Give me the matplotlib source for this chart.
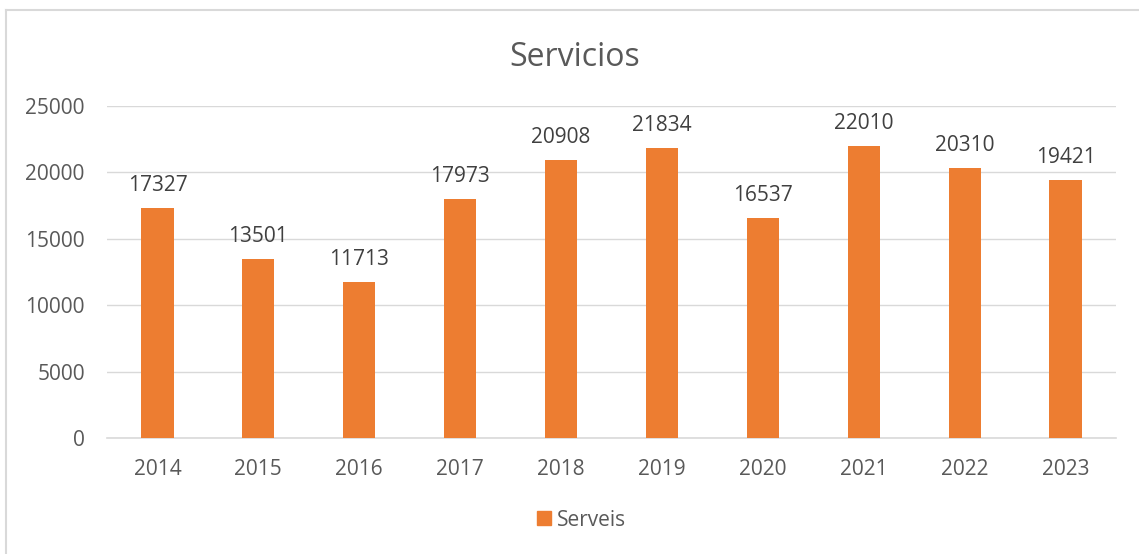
import matplotlib
matplotlib.use("Agg")
from matplotlib import pyplot as plt
from matplotlib.lines import Line2D

years = ["2014", "2015", "2016", "2017", "2018", "2019", "2020", "2021", "2022", "2023"]
serveis = [17327, 13501, 11713, 17973, 20908, 21834, 16537, 22010, 20310, 19421]
yticks = [0, 5000, 10000, 15000, 20000, 25000]

orange = "#ED7D31"
text_grey = "#595959"

plt.rcParams['font.family'] = ['Open Sans', 'DejaVu Sans']

fig = plt.figure(figsize=(11.39, 5.54), dpi=100)
ax = fig.add_axes([107/1139, 1 - 438/554, (1116 - 107)/1139, (438 - 106)/554])

x = range(len(years))
bars = ax.bar(x, serveis, width=0.32, color=orange, label="Serveis", zorder=3)
for xi, v in zip(x, serveis):
    ax.text(xi, v + 900, str(v), ha="center", va="bottom", fontsize=15, color="#404040")

ax.set_xlim(-0.5, len(years) - 0.5)
ax.set_ylim(0, 25000)
ax.set_yticks(yticks)
ax.set_yticklabels([str(t) for t in yticks])
ax.set_xticks(list(x))
ax.set_xticklabels(years)
ax.tick_params(axis="both", length=0, labelsize=15, colors=text_grey)
ax.tick_params(axis="x", pad=15)
ax.tick_params(axis="y", pad=16)
ax.grid(axis="y", color="#d9d9d9", lw=1, zorder=0)
for s in ["top", "right", "left"]:
    ax.spines[s].set_visible(False)
ax.spines["bottom"].set_color("#d9d9d9")
ax.spines["bottom"].set_linewidth(1.2)

fig.text(575/1139, 1 - 57/554, "Servicios", ha="center", va="center", fontsize=23, color=text_grey)

leg = fig.legend(handles=[Line2D([], [], marker="s", ls="", color=orange, markersize=10)],
                 labels=["Serveis"], loc="center", bbox_to_anchor=(580/1139, 1 - 520/554),
                 frameon=False, fontsize=15, handletextpad=0.1, handlelength=1)
for t in leg.get_texts():
    t.set_color(text_grey)

# thin frame around the chart (top and left edges visible)
fig.add_artist(Line2D([6/1139, 1], [1 - 10/554, 1 - 10/554], color="#d9d9d9", lw=1.5))
fig.add_artist(Line2D([6/1139, 6/1139], [0, 1 - 10/554], color="#d9d9d9", lw=1.5))

fig.savefig("out.png", dpi=100)
